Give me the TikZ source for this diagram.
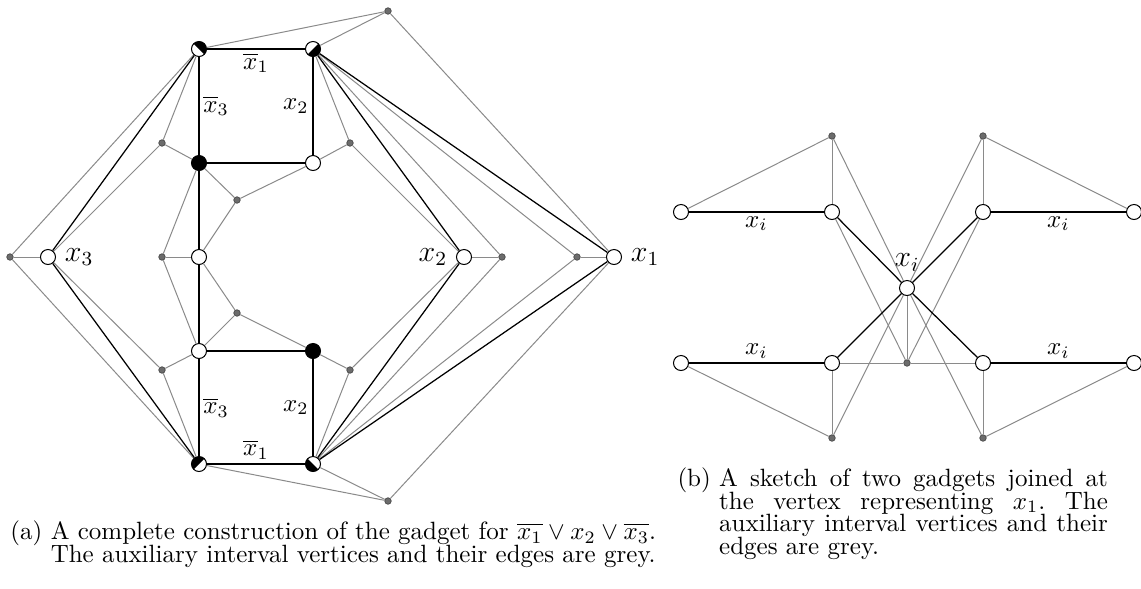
\documentclass[tikz,border=0pt]{standalone}
\usepackage{amsmath}
\usepackage{amssymb}
\usetikzlibrary{calc}
\definecolor{auxgrey}{HTML}{8A8A8A}
\definecolor{auxdot}{HTML}{6C6C6C}

\tikzset{
  vtx/.style={circle, draw=black, fill=white, line width=0.4pt, inner sep=0pt, minimum size=6pt},
  fullvtx/.style={vtx, fill=black},
  halfvtx/.style={vtx, path picture={
      \fill[black] (path picture bounding box.center) -- ++(#1-90:4pt)
        arc[start angle=#1-90, end angle=#1+90, radius=4pt] -- cycle;}},
  auxvtx/.style={circle, draw=black!70, fill=auxdot, line width=0.3pt, inner sep=0pt, minimum size=2.6pt},
  mainedge/.style={black, line width=0.5pt},
  auxedge/.style={auxgrey, line width=0.4pt},
  lit/.style={inner sep=1.5pt},
  vlabel/.style={font=\large},
  capfont/.style={font={\fontsize{10}{9.1}\selectfont\lineskiplimit=-20pt}},
}
\newcommand{\capline}[1]{\makebox[155.5pt][s]{#1}}

\begin{document}
\begin{tikzpicture}[x=0.4pt, y=-0.4pt]
  \useasboundingbox (0,0) rectangle (1141,588);

  % ---------- Left panel: the whole gadget ----------
  % the two squares
  \node[halfvtx=45]   (A) at (199,49) {};
  \node[halfvtx=-45]  (B) at (313,49) {};
  \node[fullvtx]      (C) at (199,163) {};
  \node[vtx]          (D) at (313,163) {};
  \node[vtx]          (E) at (199,257) {};
  \node[vtx]          (F) at (199,351) {};
  \node[fullvtx]      (G) at (313,351) {};
  \node[halfvtx=135]  (H) at (199,464) {};
  \node[halfvtx=-135] (I) at (313,464) {};

  % variable vertices
  \node[vtx, label={[vlabel]right:$x_3$}] (X3) at (48,257) {};
  \node[vtx, label={[vlabel]left:$x_2$}]  (X2) at (464,257) {};
  \node[vtx, label={[vlabel]right:$x_1$}] (X1) at (614,257) {};

  % auxiliary interval vertices
  \foreach \name/\pos in {gt/{(388,11)}, gb/{(388,501)}, gl/{(10,257)},
      ga/{(162,143)}, gb2/{(350,143)}, gc/{(237,200)}, gd/{(162,257)},
      ge/{(237,313)}, gf/{(162,370)}, gg/{(350,370)}, gh/{(502,257)},
      gi/{(577,257)}}
    \node[auxvtx] (\name) at \pos {};

  % grey edges
  \foreach \a/\b in {gt/A, gt/B, gt/X1, gb/H, gb/I, gb/X1, gl/X3, gl/A, gl/H,
      ga/A, ga/C, ga/X3, gb2/B, gb2/D, gb2/X2, gc/C, gc/D, gc/E,
      gd/C, gd/E, gd/F, ge/E, ge/F, ge/G, gf/F, gf/H, gf/X3,
      gg/G, gg/I, gg/X2, gh/X2, gh/B, gh/I, gi/X1, gi/B, gi/I}
    \draw[auxedge] (\a) -- (\b);

  % black edges
  \draw[mainedge] (A) -- node[lit, below] {$\overline{x}_1$} (B);
  \draw[mainedge] (A) -- node[lit, right] {$\overline{x}_3$} (C);
  \draw[mainedge] (B) -- node[lit, left] {$x_2$} (D);
  \draw[mainedge] (H) -- node[lit, above] {$\overline{x}_1$} (I);
  \draw[mainedge] (F) -- node[lit, right] {$\overline{x}_3$} (H);
  \draw[mainedge] (G) -- node[lit, left] {$x_2$} (I);
  \foreach \a/\b in {C/D, C/E, E/F, F/G, A/X3, H/X3, B/X2, B/X1, I/X2, I/X1}
    \draw[mainedge] (\a) -- (\b);

  \node[capfont, anchor=north west, inner sep=0pt, align=left] (capa) at (10,520)
    {(a) A complete construction of the gadget for $\overline{x_1}\vee x_2\vee\overline{x_3}$.\\
     \hphantom{(a)}\ The auxiliary interval vertices and their edges are grey.};

  % ---------- Right panel: two gadgets sharing x_i ----------
  \node[vtx] (LOt) at (681,212) {};
  \node[vtx] (TLi) at (832,212) {};
  \node[vtx] (TRi) at (983,212) {};
  \node[vtx] (ROt) at (1134,212) {};
  \node[vtx] (LOb) at (681,363) {};
  \node[vtx] (BLi) at (832,363) {};
  \node[vtx] (BRi) at (983,363) {};
  \node[vtx] (ROb) at (1134,363) {};
  \node[vtx, label={[vlabel]above:$x_i$}] (Ctr) at (907,288) {};

  \foreach \name/\pos in {hTL/{(832,136)}, hTR/{(983,136)}, hBL/{(832,438)},
      hBR/{(983,438)}, hC/{(907,363)}}
    \node[auxvtx] (\name) at \pos {};

  \foreach \a/\b in {hTL/LOt, hTL/TLi, hTL/Ctr, hTR/ROt, hTR/TRi, hTR/Ctr,
      hBL/LOb, hBL/BLi, hBL/Ctr, hBR/ROb, hBR/BRi, hBR/Ctr,
      hC/Ctr, hC/TLi, hC/TRi, hC/BLi, hC/BRi}
    \draw[auxedge] (\a) -- (\b);

  \draw[mainedge] (LOt) -- node[lit, below] {$x_i$} (TLi);
  \draw[mainedge] (TRi) -- node[lit, below] {$x_i$} (ROt);
  \draw[mainedge] (LOb) -- node[lit, above] {$x_i$} (BLi);
  \draw[mainedge] (BRi) -- node[lit, above] {$x_i$} (ROb);
  \foreach \b in {TLi, TRi, BLi, BRi}
    \draw[mainedge] (Ctr) -- (\b);

  \node[capfont, anchor=north west, inner sep=0pt, align=left] (capb) at (677,467)
    {(b) \capline{A sketch of two gadgets joined at}\\
     \hphantom{(b)}\ \capline{the vertex representing $x_1$.\ The}\\
     \hphantom{(b)}\ \capline{auxiliary interval vertices and their}\\
     \hphantom{(b)}\ edges are grey.};
\end{tikzpicture}
\end{document}
